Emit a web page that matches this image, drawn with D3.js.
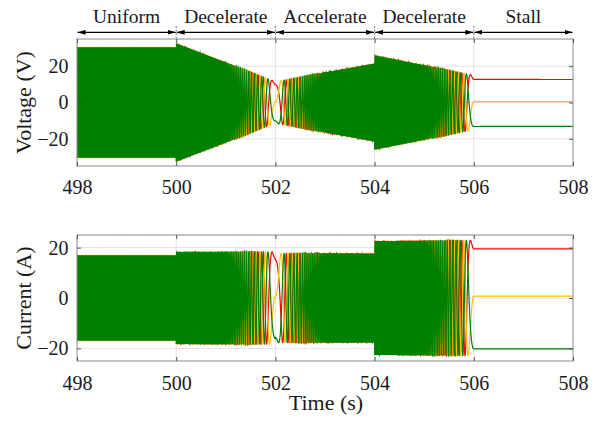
<!DOCTYPE html>
<html>
<head>
<meta charset="utf-8">
<script src="https://cdn.jsdelivr.net/npm/d3@7"></script>
<style>
  body { margin: 0; background: #fff; }
  text { font-family: "Liberation Serif", "Times New Roman", serif; fill: #1a1a1a; }
</style>
</head>
<body>
<svg id="chart" width="600" height="422"></svg>
<script>
// operating phases (s)
const phaseBounds = [498, 500, 502, 504, 506, 508];
const phaseNames = ["Uniform", "Decelerate", "Accelerate", "Decelerate", "Stall"];

// electrical frequency breakpoints (Hz)
const freqTimes = [498, 500, 502, 504, 506, 508];
const freqHz = [75, 75, 0, 75, 0, 0];

// voltage amplitude envelope (V), repeated time = step
const voltTimes = [498, 500, 500, 502, 504, 504, 506, 508];
const voltAmp = [30.5, 30.5, 32.6, 11.5, 21.5, 26, 15, 14.9];

// current amplitude envelope (A)
const currTimes = [498, 500, 500, 502, 502, 504, 504, 506, 508];
const currAmp = [17, 17, 18.3, 18.3, 17.7, 17.7, 22.6, 22.9, 22.9];

// electrical angle held at standstill (deg)
const stallAngle = 121.8;

const phaseShift = [0, -120, 120];
const phaseColors = ["#ff0000", "#ffc000", "#008000"];

const xTicks = [498, 500, 502, 504, 506, 508];
const voltTicks = [-20, 0, 20];
const currTicks = [-20, 0, 20];

const svg = d3.select("#chart");
const x = d3.scaleLinear().domain([498, 508]).range([77, 573]);

// piecewise linear lookup, repeated times act as steps
function interp(times, vals, t) {
  let i = d3.bisectRight(times, t) - 1;
  i = Math.max(0, Math.min(times.length - 2, i));
  const t0 = times[i], t1 = times[i + 1];
  if (t1 === t0) return vals[i + 1];
  return vals[i] + (vals[i + 1] - vals[i]) * (t - t0) / (t1 - t0);
}

// sample times and electrical angle
const dt = 0.0004;
const n = Math.round((508 - 498) / dt);
const tt = d3.range(n + 1).map(k => 498 + k * dt);
const cum = [0];
for (let k = 1; k <= n; k++) {
  const f0 = interp(freqTimes, freqHz, tt[k - 1]);
  const f1 = interp(freqTimes, freqHz, tt[k]);
  cum.push(cum[k - 1] + 0.5 * (f0 + f1) * dt);
}
const thetaEnd = stallAngle * Math.PI / 180;
const theta = cum.map(c => thetaEnd - 2 * Math.PI * (cum[n] - c));

function panel(cfg) {
  const y = d3.scaleLinear().domain(cfg.domain).range([cfg.bottom, cfg.top]);
  const g = svg.append("g");

  g.append("clipPath").attr("id", cfg.id)
    .append("rect")
    .attr("x", x.range()[0]).attr("y", cfg.top)
    .attr("width", x.range()[1] - x.range()[0]).attr("height", cfg.bottom - cfg.top);

  // grid
  g.append("g").selectAll("line").data(xTicks.slice(1, -1)).join("line")
    .attr("x1", d => x(d)).attr("x2", d => x(d))
    .attr("y1", cfg.top).attr("y2", cfg.bottom)
    .attr("stroke", "#e3e3e3");
  g.append("g").selectAll("line").data(cfg.ticks).join("line")
    .attr("x1", x.range()[0]).attr("x2", x.range()[1])
    .attr("y1", d => y(d)).attr("y2", d => y(d))
    .attr("stroke", "#e3e3e3");

  // three phase traces
  const line = d3.line().x(d => x(d[0])).y(d => y(d[1]));
  const traces = g.append("g").attr("clip-path", `url(#${cfg.id})`);
  phaseShift.forEach((sh, p) => {
    const s = sh * Math.PI / 180;
    const pts = tt.map((t, k) => [t, interp(cfg.times, cfg.amp, t) * Math.sin(theta[k] + s)]);
    traces.append("path")
      .attr("d", line(pts))
      .attr("fill", "none")
      .attr("stroke", phaseColors[p])
      .attr("stroke-width", 1.2);
  });

  // frame and inward ticks
  g.append("rect")
    .attr("x", x.range()[0]).attr("y", cfg.top)
    .attr("width", x.range()[1] - x.range()[0]).attr("height", cfg.bottom - cfg.top)
    .attr("fill", "none").attr("stroke", "#8a8a8a");

  const ax = [
    g.append("g").attr("transform", `translate(0,${cfg.bottom})`)
      .call(d3.axisBottom(x).tickValues(xTicks).tickSizeInner(-4).tickSizeOuter(0).tickPadding(cfg.xPad).tickFormat(d3.format("d"))),
    g.append("g").attr("transform", `translate(0,${cfg.top})`)
      .call(d3.axisTop(x).tickValues(xTicks).tickSizeInner(-4).tickSizeOuter(0).tickFormat("")),
    g.append("g").attr("transform", `translate(${x.range()[0]},0)`)
      .call(d3.axisLeft(y).tickValues(cfg.ticks).tickSizeInner(-4).tickSizeOuter(0).tickPadding(8.5).tickFormat(d3.format("d"))),
    g.append("g").attr("transform", `translate(${x.range()[1]},0)`)
      .call(d3.axisRight(y).tickValues(cfg.ticks).tickSizeInner(-4).tickSizeOuter(0).tickFormat(""))
  ];
  ax.forEach(a => {
    a.attr("font-family", null);
    a.select(".domain").remove();
    a.selectAll(".tick line").attr("stroke", "#555");
    a.selectAll("text").attr("font-size", 20).attr("fill", "#1a1a1a");
  });

  g.append("text")
    .attr("transform", `translate(31,${(cfg.top + cfg.bottom) / 2}) rotate(-90)`)
    .attr("text-anchor", "middle")
    .attr("font-size", 22)
    .text(cfg.label);
}

panel({ id: "clipV", top: 39, bottom: 166, domain: [-35, 35], ticks: voltTicks,
  times: voltTimes, amp: voltAmp, label: "Voltage (V)", xPad: 14 });
panel({ id: "clipI", top: 235, bottom: 361, domain: [-25, 25], ticks: currTicks,
  times: currTimes, amp: currAmp, label: "Current (A)", xPad: 15 });

svg.append("text")
  .attr("x", 326).attr("y", 410)
  .attr("text-anchor", "middle")
  .attr("font-size", 22)
  .text("Time (s)");

// phase header with double arrows
const defs = svg.append("defs");
defs.append("marker")
  .attr("id", "arrow")
  .attr("viewBox", "0 0 10 6")
  .attr("refX", 10).attr("refY", 3)
  .attr("markerWidth", 8).attr("markerHeight", 5)
  .attr("markerUnits", "userSpaceOnUse")
  .attr("orient", "auto-start-reverse")
  .append("path").attr("d", "M0,0L10,3L0,6Z").attr("fill", "#000");

const segs = phaseNames.map((name, i) => ({ name, a: phaseBounds[i], b: phaseBounds[i + 1] }));
const header = svg.append("g");
header.selectAll("line.arr").data(segs).join("line")
  .attr("class", "arr")
  .attr("x1", d => x(d.a) + 0.5).attr("x2", d => x(d.b) - 0.5)
  .attr("y1", 32.3).attr("y2", 32.3)
  .attr("stroke", "#000").attr("stroke-width", 1.2)
  .attr("marker-start", "url(#arrow)").attr("marker-end", "url(#arrow)");
header.selectAll("line.sep").data(phaseBounds.slice(1, -1)).join("line")
  .attr("class", "sep")
  .attr("x1", d => x(d)).attr("x2", d => x(d))
  .attr("y1", 26).attr("y2", 39)
  .attr("stroke", "#777").attr("stroke-dasharray", "2,1.5");
header.selectAll("text").data(segs).join("text")
  .attr("x", d => (x(d.a) + x(d.b)) / 2)
  .attr("y", 22.5)
  .attr("text-anchor", "middle")
  .attr("font-size", 19.5)
  .text(d => d.name);
</script>
</body>
</html>
